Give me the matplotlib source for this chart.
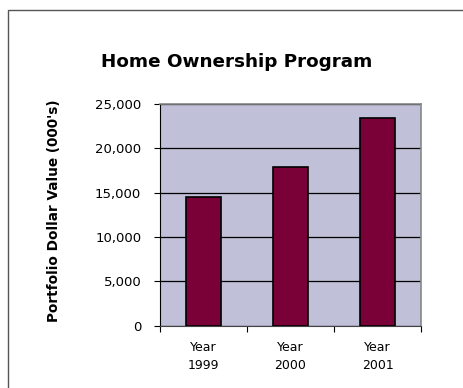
import matplotlib.pyplot as plt
from matplotlib.patches import Rectangle

plt.rcParams['font.family'] = ['DejaVu Sans']

# Portfolio values in thousands of dollars
years = ['Year\n1999', 'Year\n2000', 'Year\n2001']
values = [14500, 17900, 23400]
yticks = [0, 5000, 10000, 15000, 20000, 25000]

bar_color = '#7a0038'
plot_bg = '#c0c0d8'

fig = plt.figure(figsize=(4.63, 3.88), dpi=100)
fig.patch.set_facecolor('white')

# outer chart frame (runs off the right and bottom edges)
fig.patches.append(Rectangle((0.0173, -0.1), 1.2, 1.074, transform=fig.transFigure,
                             fill=False, edgecolor='#555555', linewidth=1.0))

ax = fig.add_axes([0.3456, 0.161, 0.5637, 0.571])
ax.set_facecolor(plot_bg)

x = range(len(values))
ax.bar(x, values, width=0.41, color=bar_color, edgecolor='black', linewidth=1.2, zorder=3)

ax.set_xlim(-0.5, 2.5)
ax.set_ylim(0, 25000)
ax.set_yticks(yticks)
ax.set_yticklabels([f'{v:,}' for v in yticks], fontsize=9.5)
ax.yaxis.grid(True, color='black', linewidth=0.9, zorder=1)
ax.set_axisbelow(True)

# category ticks sit on the boundaries, labels centred under bars
ax.set_xticks([-0.5, 0.5, 1.5, 2.5])
ax.set_xticklabels([])
ax.set_xticks(list(x), minor=True)
ax.set_xticklabels(years, minor=True, fontsize=9, linespacing=1.5)
ax.tick_params(axis='x', which='minor', length=0, pad=11)
ax.tick_params(axis='x', which='major', length=4, width=0.8, color='black')
ax.tick_params(axis='y', length=4.5, width=0.8, color='black', pad=9)

for side in ['top', 'right']:
    ax.spines[side].set_color('#888888')
    ax.spines[side].set_linewidth(1.2)
ax.spines['left'].set_color('black')
ax.spines['bottom'].set_color('#444444')

ax.set_ylabel("Portfolio Dollar Value (000's)", fontsize=9.8, fontweight='bold')
ax.yaxis.set_label_coords(-0.38, 0.52)

fig.text(0.511, 0.827, 'Home Ownership Program', ha='center', va='baseline',
         fontsize=13.2, fontweight='bold')

fig.savefig('out.png', dpi=100)
